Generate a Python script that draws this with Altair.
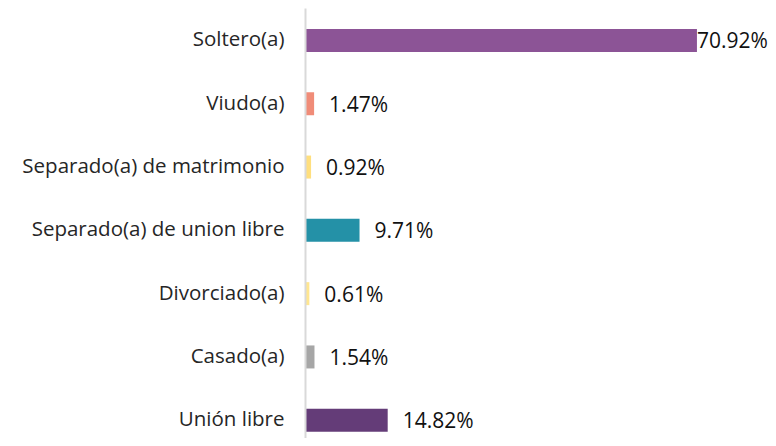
import altair as alt
import pandas as pd

categories = ["Soltero(a)", "Viudo(a)", "Separado(a) de matrimonio",
              "Separado(a) de union libre", "Divorciado(a)", "Casado(a)", "Unión libre"]
values = [70.92, 1.47, 0.92, 9.71, 0.61, 1.54, 14.82]
colors = ["#8C5496", "#F08C78", "#FFDF7E", "#2491A7", "#FFE690", "#A6A6A6", "#643C78"]

df = pd.DataFrame({"cat": categories, "val": values,
                   "label": [f"{v:.2f}%" for v in values]})

y = alt.Y("cat:N", sort=categories, title=None,
          scale=alt.Scale(paddingInner=0.637, paddingOuter=0.215, align=0.77),
          axis=alt.Axis(domainColor="#D9D9D9", domainWidth=2, ticks=False,
                        labelFont="Open Sans", labelFontSize=20.5, labelColor="#262626",
                        labelLimit=0, labelPadding=21, minExtent=297, maxExtent=297,
                        zindex=1))
x = alt.X("val:Q", title=None, axis=None, scale=alt.Scale(domain=[0, 80], nice=False))

base = alt.Chart(df)
bars = base.mark_bar(size=23, xOffset=1).encode(
    x=x, y=y,
    color=alt.Color("cat:N", scale=alt.Scale(domain=categories, range=colors), legend=None))
text_main = base.transform_filter(alt.datum.val < 50).mark_text(
    align="left", baseline="middle", dx=16, dy=2, font="Open Sans", fontSize=21, color="#111111"
).encode(x=x, y=alt.Y("cat:N", sort=categories), text="label:N")
text_big = base.transform_filter(alt.datum.val >= 50).mark_text(
    align="left", baseline="middle", dx=1, dy=2, font="Open Sans", fontSize=21, color="#111111"
).encode(x=x, y=alt.Y("cat:N", sort=categories), text="label:N")

chart = (bars + text_main + text_big).properties(
    width=441, height=430, padding={"left": 0, "top": 0, "right": 0, "bottom": 0}
).configure(background="white", view=alt.ViewConfig(stroke=None))

chart.save("out.html", embed_options={"renderer": "svg", "actions": False})
